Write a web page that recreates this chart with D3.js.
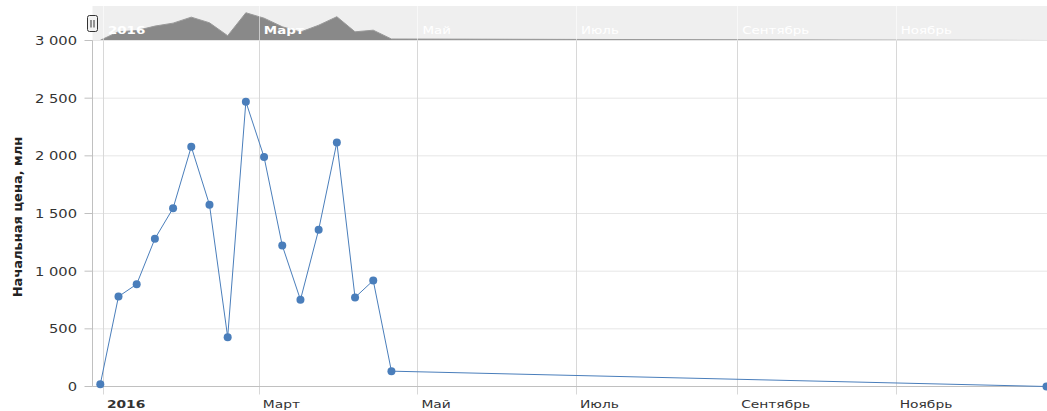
<!DOCTYPE html>
<html>
<head>
<meta charset="utf-8">
<script src="https://cdn.jsdelivr.net/npm/d3@7"></script>
<style>
  body { margin: 0; background: #fff; }
  text { font-family: "DejaVu Sans", Verdana, sans-serif; }
</style>
</head>
<body>
<div id="chart"></div>
<script>
// weekly points
const dates = ['2015-12-31', '2016-01-07', '2016-01-14', '2016-01-21', '2016-01-28',
  '2016-02-04', '2016-02-11', '2016-02-18', '2016-02-25', '2016-03-03', '2016-03-10',
  '2016-03-17', '2016-03-24', '2016-03-31', '2016-04-07', '2016-04-14', '2016-04-21',
  '2016-12-29'];
const values = [20, 780, 887, 1281, 1546, 2079, 1576, 428, 2469, 1989, 1223, 752,
  1359, 2116, 772, 919, 133, 0];

const monthTicks = ['2016-01-01', '2016-03-01', '2016-05-01', '2016-07-01', '2016-09-01', '2016-11-01'];
const monthLabels = ['2016', 'Март', 'Май', 'Июль', 'Сентябрь', 'Ноябрь'];
const yTicks = [0, 500, 1000, 1500, 2000, 2500, 3000];
const yTitle = 'Начальная цена, млн';

const w = 1047;
const h = 411;
const plotLeft = 92.5;
const plotTop = 40.5;
const plotBottom = 386.5;
const navTop = 6;
const stretch = 'scale(1.28,1)';
const blue = '#4a7ebb';

const parse = d3.timeParse('%Y-%m-%d');
const data = dates.map((d, i) => ({date: parse(d), value: values[i]}));
const ticks = monthTicks.map(parse);

const fmt = d3.formatLocale({decimal: ',', thousands: '\u00a0', grouping: [3], currency: ['', '']}).format(',d');

const xScale = d3.scaleTime()
  .domain([parse('2015-12-28'), parse('2016-12-29')])
  .range([plotLeft, w - 0.5]);
const yScale = d3.scaleLinear().domain([0, 3000]).range([plotBottom, plotTop]);
const navY = d3.scaleLinear().domain([0, 3000]).range([plotTop, navTop + 0.8]);

const svg = d3.select('#chart').append('svg')
  .attr('width', w).attr('height', h);

// ---- navigator ----
svg.append('rect')
  .attr('x', plotLeft).attr('y', navTop)
  .attr('width', w - plotLeft).attr('height', plotTop - navTop)
  .attr('fill', '#efefef');

svg.append('path')
  .datum(data)
  .attr('d', d3.area().x(d => xScale(d.date)).y0(navY(0)).y1(d => navY(d.value)))
  .attr('fill', '#898989')
  .attr('stroke', '#999')
  .attr('stroke-width', 1);

svg.append('g').selectAll('line').data(ticks).enter().append('line')
  .attr('x1', d => Math.round(xScale(d)) + 0.5).attr('x2', d => Math.round(xScale(d)) + 0.5)
  .attr('y1', navTop).attr('y2', plotTop)
  .attr('stroke', 'rgba(255,255,255,0.55)');

svg.append('g').selectAll('text').data(ticks).enter().append('text')
  .attr('transform', d => 'translate(' + (xScale(d) + 5) + ',34) ' + stretch)
  .attr('font-size', 10.5)
  .attr('font-weight', (d, i) => i < 2 ? 'bold' : 'normal')
  .attr('fill', '#fff')
  .text((d, i) => monthLabels[i]);

svg.append('line')
  .attr('x1', plotLeft).attr('x2', w).attr('y1', plotTop).attr('y2', plotTop)
  .attr('stroke', '#c4c4c4');

// handle
const handle = svg.append('g').attr('transform', 'translate(' + plotLeft + ',0)');
handle.append('rect')
  .attr('x', -5).attr('y', 15.5).attr('width', 10).attr('height', 16)
  .attr('rx', 2).attr('fill', '#f2f2f2').attr('stroke', '#333').attr('stroke-width', 1);
handle.selectAll('line.grip').data([-1.5, 1.5]).enter().append('line')
  .attr('x1', d => d).attr('x2', d => d).attr('y1', 20).attr('y2', 27.5)
  .attr('stroke', '#333');

// ---- main plot ----
svg.append('g').selectAll('line').data(yTicks.slice(1)).enter().append('line')
  .attr('x1', plotLeft).attr('x2', w)
  .attr('y1', d => yScale(d)).attr('y2', d => yScale(d))
  .attr('stroke', '#e6e6e6');

svg.append('g').selectAll('line').data(ticks).enter().append('line')
  .attr('x1', d => Math.round(xScale(d)) + 0.5).attr('x2', d => Math.round(xScale(d)) + 0.5)
  .attr('y1', plotTop).attr('y2', plotBottom + 8)
  .attr('stroke', '#d8d8d8');

// axes lines
svg.append('line')
  .attr('x1', plotLeft).attr('x2', plotLeft).attr('y1', plotTop).attr('y2', plotBottom)
  .attr('stroke', '#c0c0c0');
svg.append('line')
  .attr('x1', plotLeft).attr('x2', w).attr('y1', plotBottom).attr('y2', plotBottom)
  .attr('stroke', '#c0c0c0');

// y ticks + labels
const yAx = svg.append('g');
yAx.selectAll('line').data(yTicks).enter().append('line')
  .attr('x1', plotLeft - 8).attr('x2', plotLeft)
  .attr('y1', d => yScale(d)).attr('y2', d => yScale(d))
  .attr('stroke', '#c0c0c0');
yAx.selectAll('text').data(yTicks).enter().append('text')
  .attr('transform', d => 'translate(77,' + (yScale(d) + 4.5) + ') ' + stretch)
  .attr('text-anchor', 'end')
  .attr('font-size', 11.5)
  .attr('fill', '#333')
  .text(d => fmt(d));

svg.append('text')
  .attr('transform', 'translate(22,217) rotate(-90)')
  .attr('text-anchor', 'middle')
  .attr('font-size', 13)
  .attr('font-weight', 'bold')
  .attr('fill', '#222')
  .text(yTitle);

// x labels
svg.append('g').selectAll('text').data(ticks).enter().append('text')
  .attr('transform', d => 'translate(' + (xScale(d) + 4) + ',408) ' + stretch)
  .attr('font-size', 10.8)
  .attr('font-weight', (d, i) => i === 0 ? 'bold' : 'normal')
  .attr('fill', '#333')
  .text((d, i) => monthLabels[i]);

// series
svg.append('path')
  .datum(data)
  .attr('d', d3.line().x(d => xScale(d.date)).y(d => yScale(d.value)))
  .attr('fill', 'none')
  .attr('stroke', blue)
  .attr('stroke-width', 1);

svg.append('g').selectAll('circle').data(data).enter().append('circle')
  .attr('cx', d => xScale(d.date))
  .attr('cy', d => yScale(d.value))
  .attr('r', 4)
  .attr('fill', blue);
</script>
</body>
</html>
